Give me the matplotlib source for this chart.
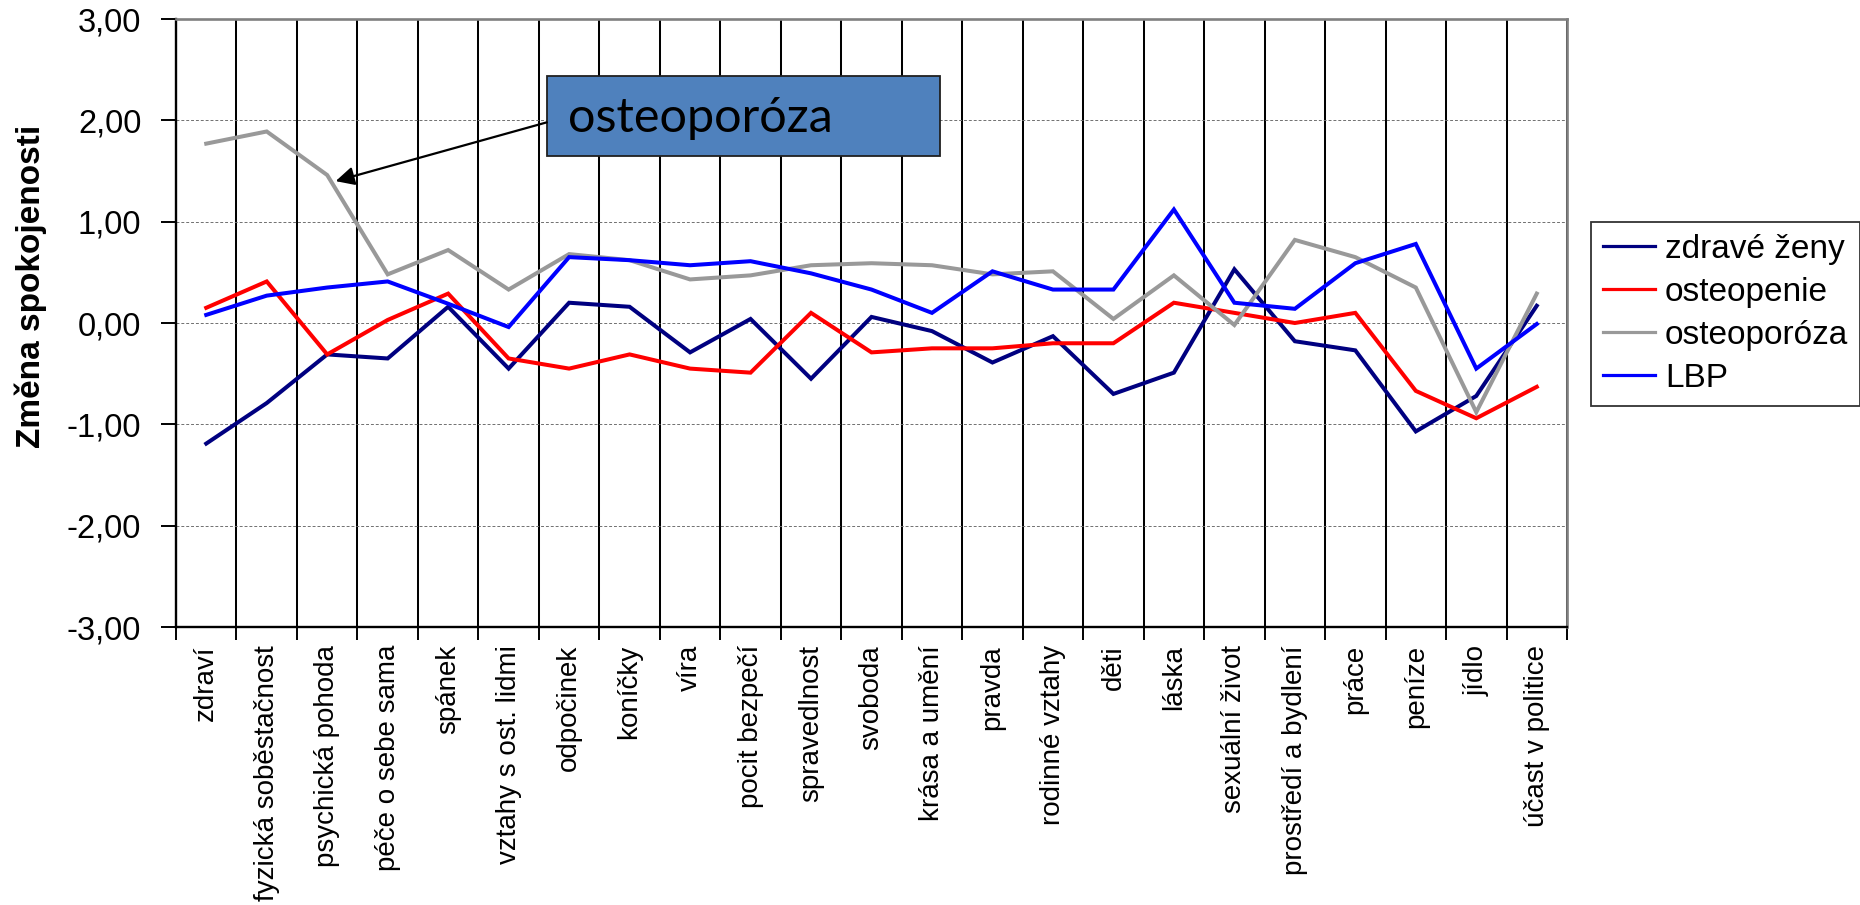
import matplotlib
matplotlib.use("Agg")
import matplotlib.pyplot as plt
from matplotlib.patches import Rectangle
import numpy as np

plt.rcParams['font.family'] = ['Liberation Sans', 'DejaVu Sans']

# data
categories = ['zdraví', 'fyzická soběstačnost', 'psychická pohoda', 'péče o sebe sama',
              'spánek', 'vztahy s ost. lidmi', 'odpočinek', 'koníčky', 'víra',
              'pocit bezpečí', 'spravedlnost', 'svoboda', 'krása a umění', 'pravda',
              'rodinné vztahy', 'děti', 'láska', 'sexuální život', 'prostředí a bydlení',
              'práce', 'peníze', 'jídlo', 'účast v politice']

zdrave_zeny = [-1.19, -0.79, -0.31, -0.35, 0.16, -0.45, 0.20, 0.16, -0.29, 0.04, -0.55, 0.06,
               -0.08, -0.39, -0.13, -0.70, -0.49, 0.53, -0.18, -0.27, -1.07, -0.72, 0.17]
osteopenie = [0.15, 0.41, -0.31, 0.03, 0.29, -0.35, -0.45, -0.31, -0.45, -0.49, 0.10, -0.29,
              -0.25, -0.25, -0.20, -0.20, 0.20, 0.10, 0.00, 0.10, -0.67, -0.94, -0.63]
osteoporoza = [1.77, 1.89, 1.46, 0.48, 0.72, 0.33, 0.68, 0.62, 0.43, 0.47, 0.57, 0.59,
               0.57, 0.48, 0.51, 0.04, 0.47, -0.02, 0.82, 0.65, 0.35, -0.88, 0.29]
lbp = [0.08, 0.27, 0.35, 0.41, 0.19, -0.04, 0.65, 0.62, 0.57, 0.61, 0.49, 0.33,
       0.10, 0.51, 0.33, 0.33, 1.12, 0.20, 0.14, 0.59, 0.78, -0.45, -0.01]

y_ticks = [-3, -2, -1, 0, 1, 2, 3]
y_tick_labels = ['-3,00', '-2,00', '-1,00', '0,00', '1,00', '2,00', '3,00']

series = [
    ('zdravé ženy', zdrave_zeny, '#000080'),
    ('osteopenie', osteopenie, '#FF0000'),
    ('osteoporóza', osteoporoza, '#999999'),
    ('LBP', lbp, '#0000FF'),
]

fig = plt.figure(figsize=(18.6, 9.05), dpi=100)
ax = fig.add_axes([176 / 1860, 1 - 627 / 905, 1391 / 1860, 608 / 905])

x = np.arange(len(categories))
for name, vals, col in series:
    ax.plot(x, vals, color=col, lw=2.9, label=name, solid_joinstyle='miter', zorder=3)

ax.set_xlim(-0.5, len(categories) - 0.5)
ax.set_ylim(-3, 3)

# category labels in the middle, tick marks + vertical lines on the boundaries
ax.set_xticks(x)
ax.set_xticklabels(categories, rotation=90, fontsize=20)
ax.set_xticks(np.arange(len(categories) + 1) - 0.5, minor=True)
ax.tick_params(axis='x', which='major', length=0, pad=13)
ax.tick_params(axis='x', which='minor', length=9, width=1.4, color='black')
ax.grid(which='minor', axis='x', color='black', lw=1.45)

ax.set_yticks(y_ticks)
ax.set_yticklabels(y_tick_labels, fontsize=23.5)
ax.tick_params(axis='y', length=11, width=1.4, pad=14)
ax.grid(which='major', axis='y', color='#707070', lw=0.7, ls=(0, (3, 2)))
ax.set_axisbelow(True)

for s in ['left', 'bottom']:
    ax.spines[s].set_color('black')
    ax.spines[s].set_linewidth(1.7)
for s in ['top', 'right']:
    ax.spines[s].set_color('#808080')
    ax.spines[s].set_linewidth(1.9)

ax.set_ylabel('Změna spokojenosti', fontsize=24, fontweight='bold')
ax.yaxis.set_label_coords(-0.0927, 0.56)

leg = ax.legend(loc='upper left', bbox_to_anchor=(1591 / 1860, 1 - 222 / 905),
                bbox_transform=fig.transFigure, fontsize=24, frameon=True,
                fancybox=False, handlelength=1.56, handletextpad=0.3,
                labelspacing=0.36, borderpad=0.36, borderaxespad=0)
leg.get_frame().set_edgecolor('black')
leg.get_frame().set_linewidth(1.3)
for h in leg.get_lines():
    h.set_linewidth(2.3)

# callout box with arrow
box = Rectangle((5.63, 1.65), 6.51, 0.79, facecolor='#4F81BD', edgecolor='#202020',
                lw=1.3, zorder=5)
ax.add_patch(box)
ax.text(5.98, 1.885, 'osteoporóza', fontsize=35, family=['Lato', 'DejaVu Sans'],
        ha='left', va='baseline', color='black', zorder=6)
ax.annotate('', xy=(2.14, 1.40), xytext=(5.63, 1.98),
            arrowprops=dict(arrowstyle='-|>', color='black', lw=1.6,
                            mutation_scale=28, shrinkA=0, shrinkB=0), zorder=6)

fig.savefig('out.png', dpi=100)
